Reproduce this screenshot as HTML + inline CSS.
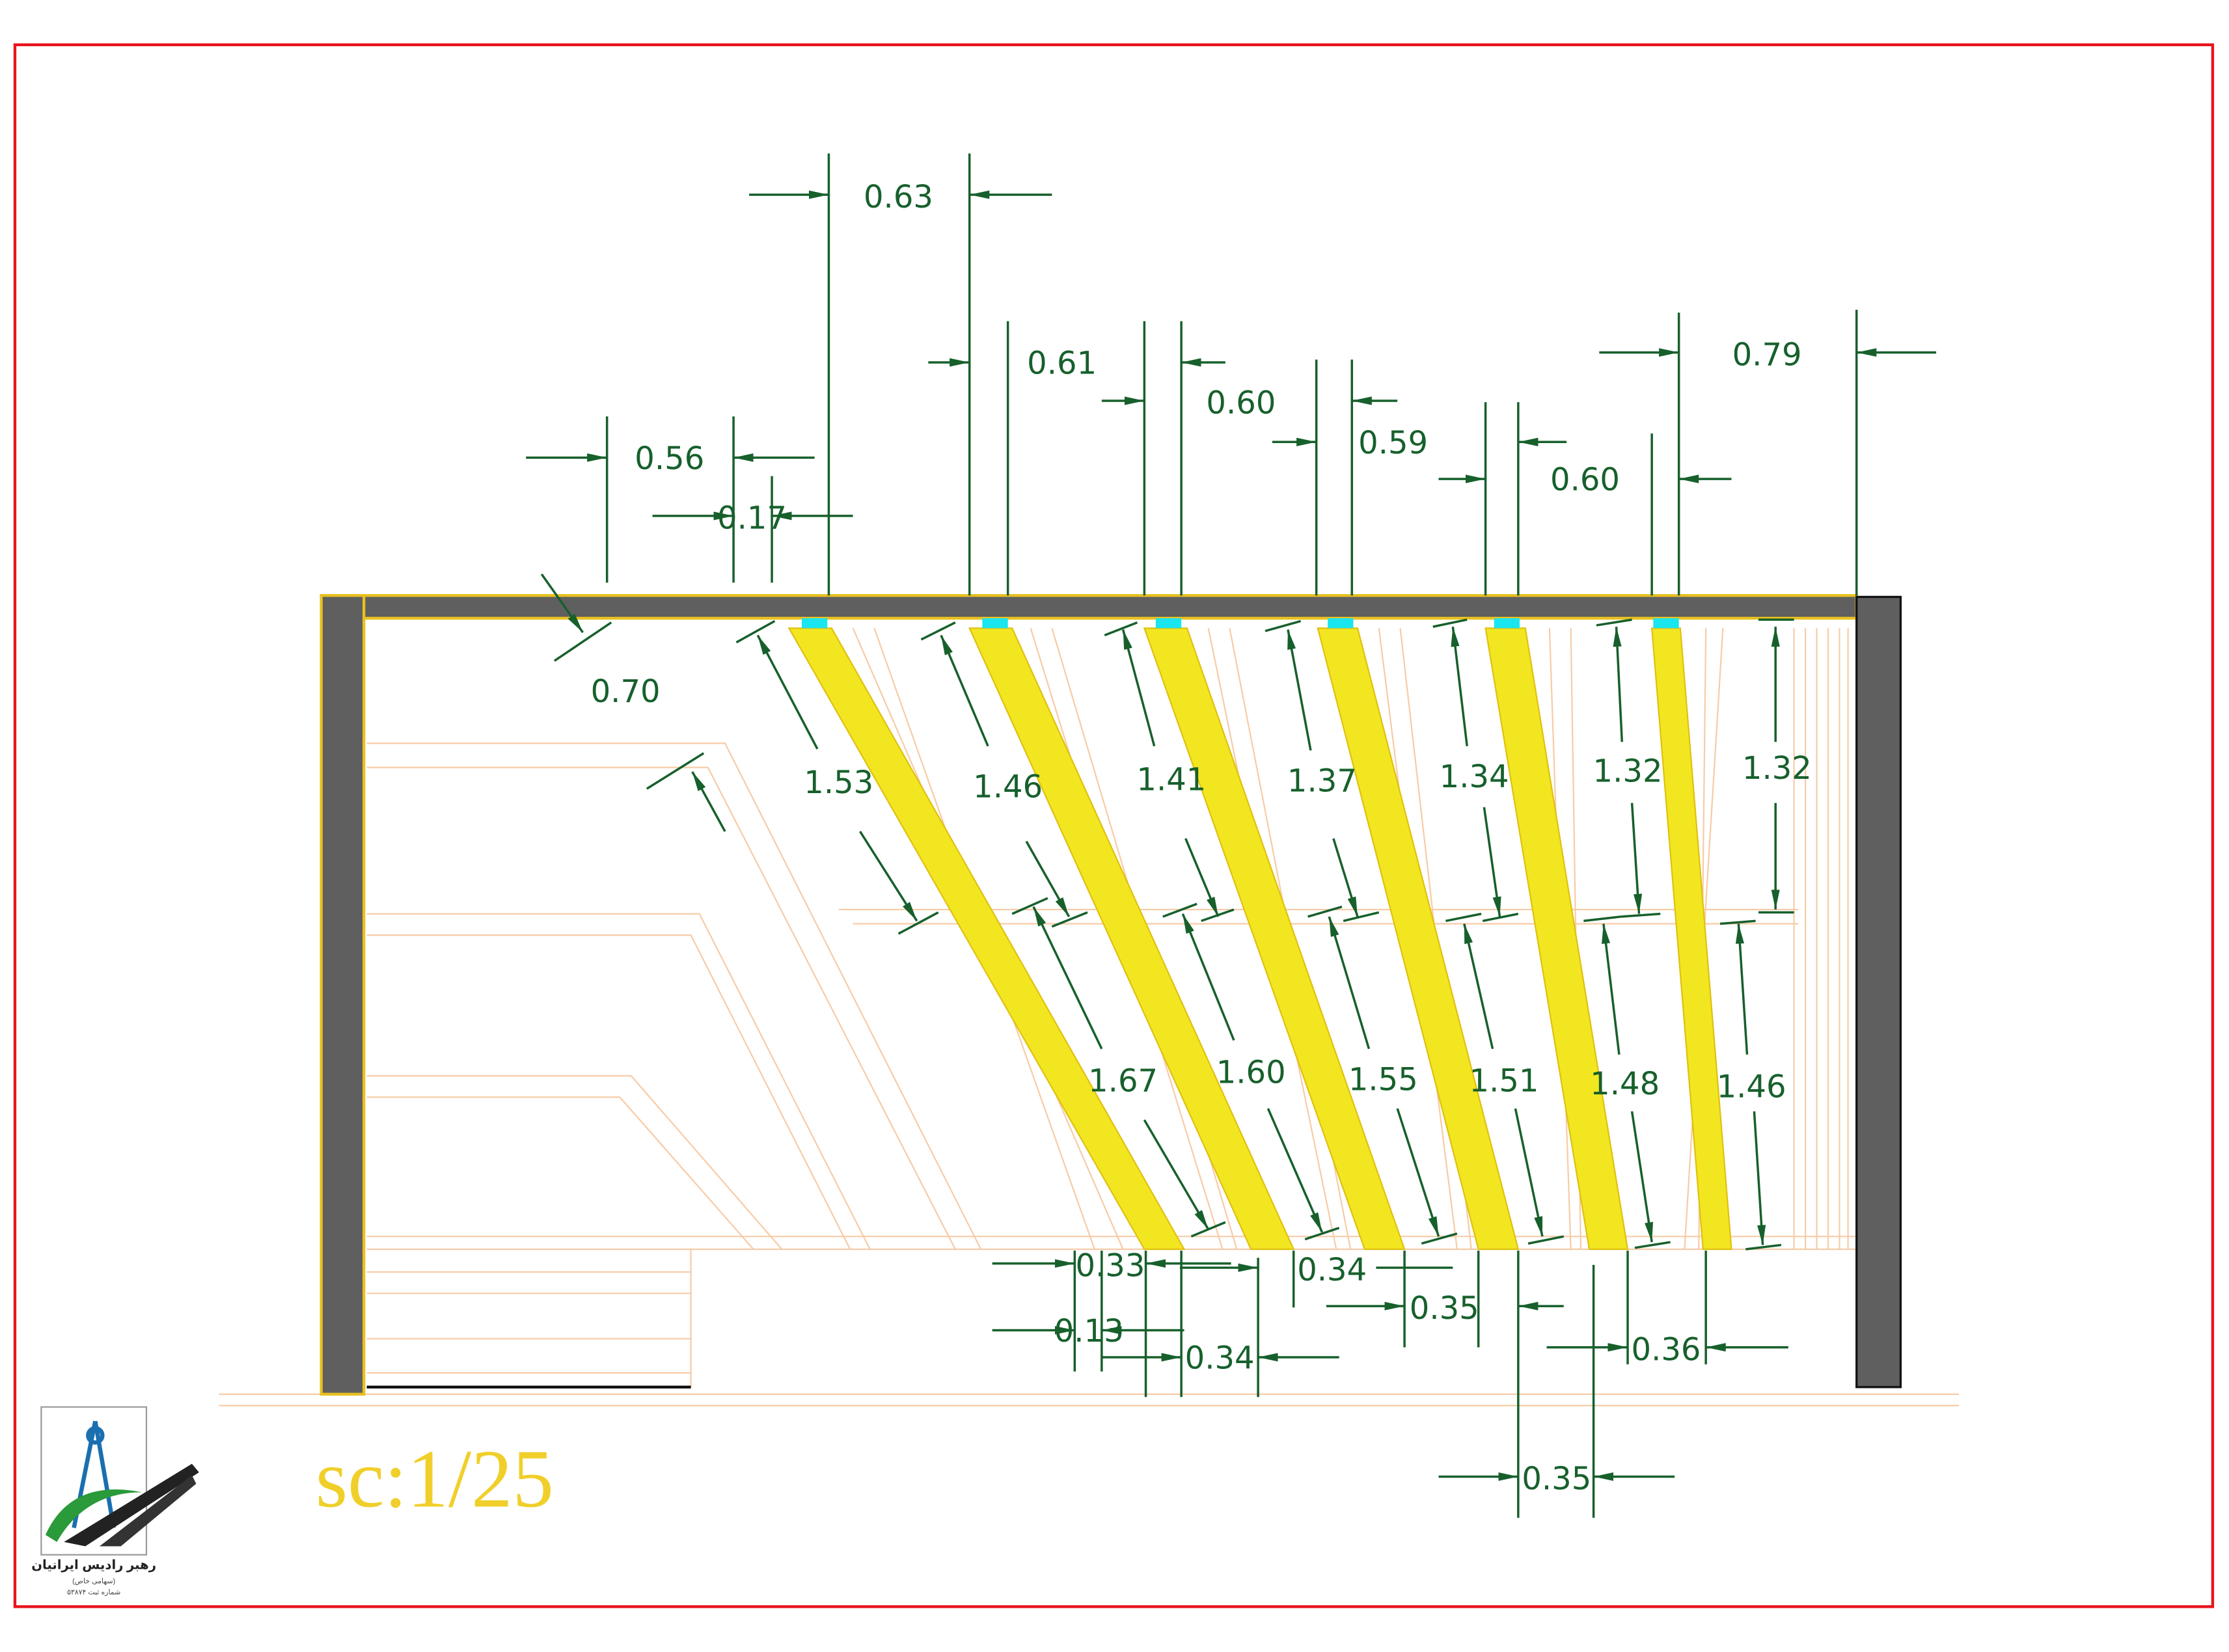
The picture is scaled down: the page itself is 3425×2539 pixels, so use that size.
<!DOCTYPE html>
<html><head><meta charset="utf-8"><style>html,body{margin:0;padding:0;background:#fff}svg{display:block}</style></head>
<body>
<svg xmlns="http://www.w3.org/2000/svg" width="3425" height="2539" viewBox="0 0 1568 1162.4" preserveAspectRatio="none">
<defs>
<marker id="a" viewBox="0 0 14 6" refX="14" refY="3" markerWidth="14" markerHeight="6" markerUnits="userSpaceOnUse" orient="auto"><path d="M0,0 L14,3 L0,6 z" fill="#17602c"/></marker>
</defs>
<rect x="0" y="0" width="1568" height="1163" fill="#fff"/>
<rect x="10.5" y="31.5" width="1546" height="1099" fill="none" stroke="#e8141c" stroke-width="2"/>

<g stroke="#f7cba6" stroke-width="1" fill="none">
<line x1="154" y1="981" x2="1378" y2="981"/><line x1="154" y1="989" x2="1378" y2="989"/>
<polyline points="258,523 510,523 690,879"/><polyline points="258,540 498,540 672,879"/>
<polyline points="258,643 492,643 612,879"/><polyline points="258,658 486,658 598,879"/>
<polyline points="258,757 444,757 550,879"/><polyline points="258,772 436,772 530,879"/>
<line x1="258" y1="879" x2="1306" y2="879"/><line x1="258" y1="870" x2="1306" y2="870"/>
<line x1="258" y1="895" x2="486" y2="895"/><line x1="258" y1="910" x2="486" y2="910"/>
<line x1="258" y1="942" x2="486" y2="942"/><line x1="258" y1="966" x2="486" y2="966"/>
<line x1="486" y1="879" x2="486" y2="976"/>
<line x1="590" y1="640" x2="1265" y2="640"/><line x1="600" y1="650" x2="1265" y2="650"/>
<line x1="600" y1="442" x2="790" y2="879"/><line x1="615" y1="442" x2="770" y2="879"/>
<line x1="725" y1="442" x2="860" y2="879"/><line x1="740" y1="442" x2="870" y2="879"/>
<line x1="850" y1="442" x2="940" y2="879"/><line x1="865" y1="442" x2="950" y2="879"/>
<line x1="970" y1="442" x2="1025" y2="879"/><line x1="985" y1="442" x2="1035" y2="879"/>
<line x1="1090" y1="442" x2="1105" y2="879"/><line x1="1105" y1="442" x2="1112" y2="879"/>
<line x1="1200" y1="442" x2="1195" y2="879"/><line x1="1212" y1="442" x2="1185" y2="879"/>
<line x1="1262" y1="442" x2="1262" y2="879"/><line x1="1270" y1="442" x2="1270" y2="879"/>
<line x1="1278" y1="442" x2="1278" y2="879"/><line x1="1286" y1="442" x2="1286" y2="879"/>
<line x1="1294" y1="442" x2="1294" y2="879"/><line x1="1300" y1="442" x2="1300" y2="879"/>
</g>

<rect x="226" y="419" width="1080" height="16" fill="#5f5f5f" stroke="#e8c020" stroke-width="2"/>
<rect x="226" y="419" width="30" height="562" fill="#5f5f5f" stroke="#e8c020" stroke-width="2"/>
<rect x="1306" y="420" width="31" height="556" fill="#5f5f5f" stroke="#111" stroke-width="1.5"/>
<line x1="258" y1="976" x2="486" y2="976" stroke="#111" stroke-width="2"/>

<g fill="#f2e620" stroke="#e0c010" stroke-width="1">
<polygon points="555,442 585,442 833,879 805,879"/>
<polygon points="682,442 712,442 910,879 880,879"/>
<polygon points="805,442 835,442 988,879 960,879"/>
<polygon points="927,442 955,442 1068,879 1040,879"/>
<polygon points="1045,442 1073,442 1145,879 1118,879"/>
<polygon points="1162,442 1182,442 1218,879 1198,879"/>
</g>
<g fill="#19e6ee">
<rect x="564" y="435" width="18" height="7"/><rect x="691" y="435" width="18" height="7"/>
<rect x="813" y="435" width="18" height="7"/><rect x="934" y="435" width="18" height="7"/>
<rect x="1051" y="435" width="18" height="7"/><rect x="1163" y="435" width="18" height="7"/>
</g>

<g stroke="#17602c" stroke-width="1.6" fill="none">
<line x1="583" y1="108" x2="583" y2="419"/><line x1="682" y1="108" x2="682" y2="419"/>
<line x1="709" y1="226" x2="709" y2="419"/>
<line x1="805" y1="226" x2="805" y2="419"/><line x1="831" y1="226" x2="831" y2="419"/>
<line x1="926" y1="253" x2="926" y2="419"/><line x1="951" y1="253" x2="951" y2="419"/>
<line x1="1045" y1="283" x2="1045" y2="419"/><line x1="1068" y1="283" x2="1068" y2="419"/>
<line x1="1162" y1="305" x2="1162" y2="419"/><line x1="1181" y1="220" x2="1181" y2="419"/>
<line x1="1306" y1="218" x2="1306" y2="419"/>
<line x1="427" y1="293" x2="427" y2="410"/><line x1="516" y1="293" x2="516" y2="410"/>
<line x1="543" y1="335" x2="543" y2="410"/>
<line x1="527" y1="137" x2="583" y2="137" marker-end="url(#a)"/><line x1="740" y1="137" x2="682" y2="137" marker-end="url(#a)"/>
<line x1="653" y1="255" x2="682" y2="255" marker-end="url(#a)"/>
<line x1="775" y1="282" x2="805" y2="282" marker-end="url(#a)"/><line x1="862" y1="255" x2="831" y2="255" marker-end="url(#a)"/>
<line x1="895" y1="311" x2="926" y2="311" marker-end="url(#a)"/><line x1="983" y1="282" x2="951" y2="282" marker-end="url(#a)"/>
<line x1="1012" y1="337" x2="1045" y2="337" marker-end="url(#a)"/><line x1="1102" y1="311" x2="1068" y2="311" marker-end="url(#a)"/>
<line x1="1218" y1="337" x2="1181" y2="337" marker-end="url(#a)"/>
<line x1="1125" y1="248" x2="1181" y2="248" marker-end="url(#a)"/><line x1="1362" y1="248" x2="1306" y2="248" marker-end="url(#a)"/>
<line x1="370" y1="322" x2="427" y2="322" marker-end="url(#a)"/><line x1="573" y1="322" x2="516" y2="322" marker-end="url(#a)"/>
<line x1="459" y1="363" x2="516" y2="363" marker-end="url(#a)"/><line x1="600" y1="363" x2="543" y2="363" marker-end="url(#a)"/>
<line x1="381" y1="404" x2="410" y2="445" marker-end="url(#a)"/><line x1="390" y1="465" x2="430" y2="438"/>
<line x1="455" y1="555" x2="495" y2="530"/><line x1="510" y1="585" x2="487" y2="543" marker-end="url(#a)"/>
<line x1="575" y1="527" x2="533" y2="447" marker-end="url(#a)"/><line x1="605" y1="585" x2="645" y2="648" marker-end="url(#a)"/>
<line x1="695" y1="525" x2="662" y2="447" marker-end="url(#a)"/><line x1="722" y1="592" x2="752" y2="645" marker-end="url(#a)"/>
<line x1="812" y1="525" x2="790" y2="443" marker-end="url(#a)"/><line x1="834" y1="590" x2="857" y2="645" marker-end="url(#a)"/>
<line x1="922" y1="528" x2="906" y2="443" marker-end="url(#a)"/><line x1="938" y1="590" x2="955" y2="645" marker-end="url(#a)"/>
<line x1="1032" y1="525" x2="1022" y2="441" marker-end="url(#a)"/><line x1="1044" y1="568" x2="1055" y2="645" marker-end="url(#a)"/>
<line x1="1141" y1="522" x2="1137" y2="441" marker-end="url(#a)"/><line x1="1148" y1="565" x2="1153" y2="643" marker-end="url(#a)"/>
<line x1="1249" y1="522" x2="1249" y2="441" marker-end="url(#a)"/><line x1="1249" y1="565" x2="1249" y2="640" marker-end="url(#a)"/>
<line x1="775" y1="738" x2="727" y2="638" marker-end="url(#a)"/><line x1="805" y1="788" x2="850" y2="865" marker-end="url(#a)"/>
<line x1="868" y1="732" x2="832" y2="643" marker-end="url(#a)"/><line x1="892" y1="780" x2="930" y2="867" marker-end="url(#a)"/>
<line x1="963" y1="738" x2="935" y2="645" marker-end="url(#a)"/><line x1="983" y1="780" x2="1012" y2="870" marker-end="url(#a)"/>
<line x1="1050" y1="738" x2="1030" y2="650" marker-end="url(#a)"/><line x1="1066" y1="780" x2="1085" y2="870" marker-end="url(#a)"/>
<line x1="1139" y1="742" x2="1128" y2="650" marker-end="url(#a)"/><line x1="1148" y1="782" x2="1162" y2="874" marker-end="url(#a)"/>
<line x1="1229" y1="742" x2="1223" y2="650" marker-end="url(#a)"/><line x1="1234" y1="782" x2="1240" y2="876" marker-end="url(#a)"/>
<line x1="518" y1="452" x2="545" y2="437"/><line x1="632" y1="657" x2="660" y2="642"/>
<line x1="648" y1="450" x2="672" y2="438"/><line x1="740" y1="652" x2="765" y2="642"/>
<line x1="777" y1="447" x2="800" y2="438"/><line x1="845" y1="648" x2="868" y2="640"/>
<line x1="890" y1="444" x2="915" y2="437"/><line x1="945" y1="648" x2="970" y2="642"/>
<line x1="1008" y1="441" x2="1032" y2="436"/><line x1="1043" y1="648" x2="1068" y2="643"/>
<line x1="1123" y1="440" x2="1148" y2="436"/><line x1="1140" y1="645" x2="1168" y2="643"/>
<line x1="1237" y1="436" x2="1262" y2="436"/><line x1="1237" y1="642" x2="1262" y2="642"/>
<line x1="712" y1="643" x2="737" y2="632"/><line x1="838" y1="870" x2="862" y2="860"/>
<line x1="818" y1="645" x2="842" y2="636"/><line x1="918" y1="872" x2="942" y2="864"/>
<line x1="920" y1="645" x2="944" y2="638"/><line x1="1000" y1="875" x2="1025" y2="868"/>
<line x1="1017" y1="648" x2="1042" y2="643"/><line x1="1075" y1="875" x2="1100" y2="870"/>
<line x1="1114" y1="648" x2="1140" y2="645"/><line x1="1150" y1="878" x2="1175" y2="874"/>
<line x1="1210" y1="650" x2="1235" y2="648"/><line x1="1228" y1="879" x2="1253" y2="876"/>
<line x1="756" y1="880" x2="756" y2="965"/><line x1="775" y1="880" x2="775" y2="965"/>
<line x1="806" y1="880" x2="806" y2="983"/><line x1="831" y1="880" x2="831" y2="983"/>
<line x1="885" y1="885" x2="885" y2="983"/><line x1="910" y1="880" x2="910" y2="920"/>
<line x1="988" y1="880" x2="988" y2="948"/><line x1="1040" y1="880" x2="1040" y2="948"/>
<line x1="1068" y1="880" x2="1068" y2="1068"/><line x1="1121" y1="890" x2="1121" y2="1068"/>
<line x1="1145" y1="880" x2="1145" y2="960"/><line x1="1200" y1="880" x2="1200" y2="960"/>
<line x1="698" y1="889" x2="756" y2="889" marker-end="url(#a)"/><line x1="866" y1="889" x2="806" y2="889" marker-end="url(#a)"/>
<line x1="698" y1="936" x2="756" y2="936" marker-end="url(#a)"/><line x1="833" y1="936" x2="775" y2="936" marker-end="url(#a)"/>
<line x1="775" y1="955" x2="831" y2="955" marker-end="url(#a)"/><line x1="942" y1="955" x2="885" y2="955" marker-end="url(#a)"/>
<line x1="830" y1="892" x2="885" y2="892" marker-end="url(#a)"/><line x1="1022" y1="892" x2="968" y2="892"/>
<line x1="933" y1="919" x2="988" y2="919" marker-end="url(#a)"/><line x1="1100" y1="919" x2="1068" y2="919" marker-end="url(#a)"/>
<line x1="1088" y1="948" x2="1145" y2="948" marker-end="url(#a)"/><line x1="1258" y1="948" x2="1200" y2="948" marker-end="url(#a)"/>
<line x1="1012" y1="1039" x2="1068" y2="1039" marker-end="url(#a)"/><line x1="1178" y1="1039" x2="1121" y2="1039" marker-end="url(#a)"/>
</g>

<g font-family="'DejaVu Sans','Liberation Sans',sans-serif" font-size="22" fill="#17602c" text-anchor="middle">
<text x="632" y="146">0.63</text><text x="747" y="263">0.61</text><text x="873" y="291">0.60</text>
<text x="980" y="319">0.59</text><text x="1115" y="345">0.60</text><text x="1243" y="257">0.79</text>
<text x="471" y="330">0.56</text><text x="529" y="372">0.17</text><text x="440" y="494">0.70</text>
<text x="590" y="558">1.53</text><text x="709" y="561">1.46</text><text x="824" y="556">1.41</text>
<text x="930" y="557">1.37</text><text x="1037" y="554">1.34</text><text x="1145" y="550">1.32</text><text x="1250" y="548">1.32</text>
<text x="790" y="768">1.67</text><text x="880" y="762">1.60</text><text x="973" y="767">1.55</text>
<text x="1058" y="768">1.51</text><text x="1143" y="770">1.48</text><text x="1232" y="772">1.46</text>
<text x="781" y="898">0.33</text><text x="766" y="944">0.13</text><text x="858" y="963">0.34</text>
<text x="937" y="901">0.34</text><text x="1016" y="928">0.35</text><text x="1172" y="957">0.36</text><text x="1095" y="1048">0.35</text>
</g>

<text x="222" y="1060" font-family="'Liberation Serif',serif" font-size="58" fill="#f0cf2a">sc:1/25</text>

<g>
<rect x="29" y="990" width="74" height="104" fill="#fff" stroke="#999" stroke-width="1"/>
<g stroke="#1a6fb0" stroke-width="3" fill="none"><line x1="67" y1="1000" x2="52" y2="1075"/><line x1="67" y1="1000" x2="80" y2="1075"/><circle cx="67" cy="1010" r="5"/></g>
<path d="M32,1080 Q50,1040 100,1050 Q60,1050 40,1085 Z" fill="#2a9a3a"/>
<path d="M45,1085 L135,1030 L140,1036 L60,1088 Z" fill="#222"/>
<path d="M70,1088 L135,1038 L138,1044 L85,1088 Z" fill="#333"/>
<text x="66" y="1104" font-family="'Liberation Sans','DejaVu Sans',sans-serif" font-size="9" font-weight="bold" fill="#222" text-anchor="middle">رهبر رادیس ایرانیان</text>
<text x="66" y="1114" font-family="'Liberation Sans','DejaVu Sans',sans-serif" font-size="5" fill="#444" text-anchor="middle">(سهامی خاص)</text>
<text x="66" y="1122" font-family="'Liberation Sans','DejaVu Sans',sans-serif" font-size="5" fill="#444" text-anchor="middle">شماره ثبت ۵۳۸۷۴</text>
</g>
</svg>
</body></html>
